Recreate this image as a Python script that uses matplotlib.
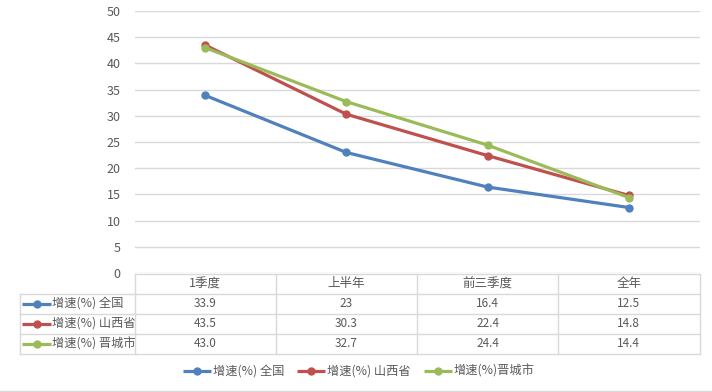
import matplotlib
matplotlib.use("Agg")
import matplotlib.pyplot as plt

plt.rcParams['font.family'] = ['Noto Sans CJK SC', 'DejaVu Sans']

categories = ["1季度", "上半年", "前三季度", "全年"]
series_names = ["增速(%) 全国", "增速(%) 山西省", "增速(%) 晋城市"]
legend_names = ["增速(%) 全国", "增速(%) 山西省", "增速(%)晋城市"]
national = [33.9, 23, 16.4, 12.5]
shanxi = [43.5, 30.3, 22.4, 14.8]
jincheng = [43.0, 32.7, 24.4, 14.4]
table_text = [["33.9", "23", "16.4", "12.5"],
              ["43.5", "30.3", "22.4", "14.8"],
              ["43.0", "32.7", "24.4", "14.4"]]
y_ticks = [0, 5, 10, 15, 20, 25, 30, 35, 40, 45, 50]

colors = ["#4F81BD", "#C0504D", "#9BBB59"]
txt = "#595959"
grid = "#D9D9D9"
W, H = 712, 392

fig = plt.figure(figsize=(W / 100, H / 100), dpi=100)

# main plot area
x0, x1, ytop, ybot = 134.5, 699.5, 11, 273
ax = fig.add_axes([x0 / W, 1 - ybot / H, (x1 - x0) / W, (ybot - ytop) / H])
ax.set_xlim(-0.5, len(categories) - 0.5)
ax.set_ylim(0, 50)
ax.set_yticks(y_ticks)
ax.set_xticks([])
for s in ax.spines.values():
    s.set_visible(False)
ax.grid(axis='y', color=grid, linewidth=1)
ax.set_axisbelow(True)
ax.tick_params(axis='y', length=0, pad=10, labelsize=9, labelcolor=txt)
xs = list(range(len(categories)))
for vals, c in zip([national, shanxi, jincheng], colors):
    ax.plot(xs, vals, color=c, linewidth=2.3, marker='o', markersize=5, zorder=3)

# overlay for table and legend in pixel coordinates
ov = fig.add_axes([0, 0, 1, 1])
ov.set_xlim(0, W)
ov.set_ylim(H, 0)
ov.axis('off')
ov.patch.set_alpha(0)

col_edges = [x0 + i * (x1 - x0) / len(categories) for i in range(len(categories) + 1)]
row_edges = [274, 293.5, 313.5, 333.5, 353.5]
left = 20
lw = 1
ov.plot([x0, x1], [row_edges[0]] * 2, color=grid, lw=lw)
for y in row_edges[1:]:
    ov.plot([left, x1], [y, y], color=grid, lw=lw)
for x in col_edges:
    ov.plot([x, x], [row_edges[0], row_edges[-1]], color=grid, lw=lw)
ov.plot([left, left], [row_edges[1], row_edges[-1]], color=grid, lw=lw)

for i, cat in enumerate(categories):
    cx = (col_edges[i] + col_edges[i + 1]) / 2
    ov.text(cx, (row_edges[0] + row_edges[1]) / 2, cat, ha='center', va='center',
            fontsize=9, color=txt)
for r in range(len(series_names)):
    cy = (row_edges[r + 1] + row_edges[r + 2]) / 2
    ov.plot([22, 51], [cy, cy], color=colors[r], lw=2.3, solid_capstyle='butt')
    ov.plot([37], [cy], marker='o', color=colors[r], markersize=5)
    ov.text(52, cy, series_names[r], ha='left', va='center', fontsize=8.8, color=txt)
    for i in range(len(categories)):
        cx = (col_edges[i] + col_edges[i + 1]) / 2
        ov.text(cx, cy, table_text[r][i], ha='center', va='center', fontsize=8.5, color=txt)

leg_y = 371
leg_x = [183, 297, 424]
for r in range(len(legend_names)):
    lx = leg_x[r]
    ov.plot([lx, lx + 28], [leg_y, leg_y], color=colors[r], lw=2.3, solid_capstyle='butt')
    ov.plot([lx + 14], [leg_y], marker='o', color=colors[r], markersize=5)
    ov.text(lx + 30, leg_y, legend_names[r], ha='left', va='center', fontsize=8.8, color=txt)

ov.plot([0, W], [390.5, 390.5], color=grid, lw=1)

fig.savefig("out.png", dpi=100)
